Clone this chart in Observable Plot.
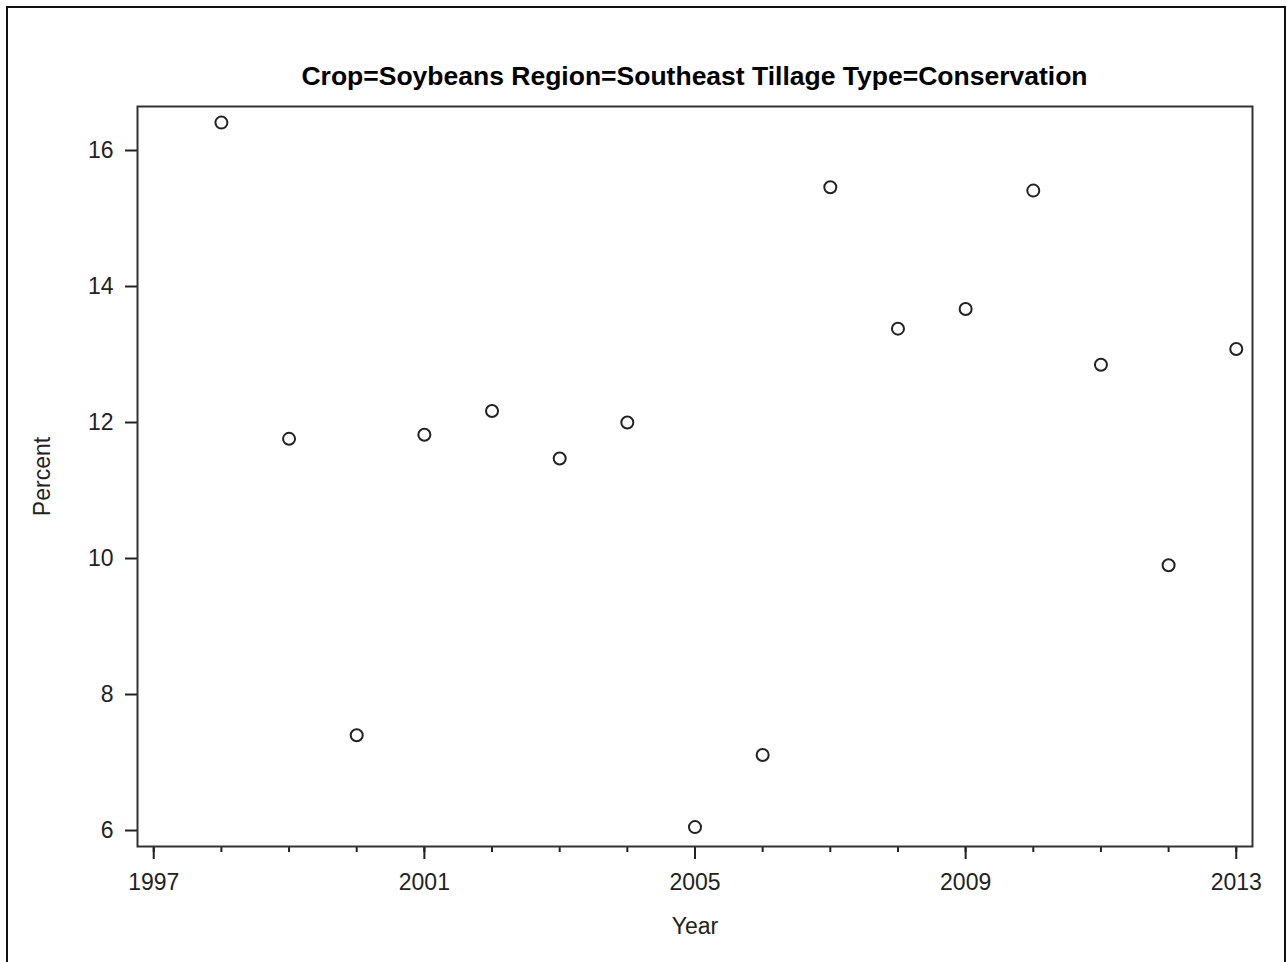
<!DOCTYPE html>
<html>
<head>
<meta charset="utf-8">
<script src="https://cdn.jsdelivr.net/npm/d3@7"></script>
<script src="https://cdn.jsdelivr.net/npm/@observablehq/plot@0.6"></script>
<style>
  html, body { margin: 0; padding: 0; background: #fff; overflow: hidden; }
  #page { position: relative; width: 1287px; height: 962px; }
  #border {
    position: absolute; left: 6px; top: 6px; width: 1280px; height: 1000px;
    box-sizing: border-box; border: 2px solid #111; pointer-events: none;
  }
  #title {
    position: absolute; left: 137px; top: 0; width: 1115px; height: 95px;
    box-sizing: border-box; padding-top: 63px;
    font: bold 26.5px/26px "Liberation Sans", Arial, sans-serif;
    color: #000; text-align: center; white-space: nowrap;
  }
  #chart { position: absolute; left: 0; top: 95px; }
</style>
</head>
<body>
<div id="page">
  <div id="title">Crop=Soybeans Region=Southeast Tillage Type=Conservation</div>
  <div id="chart"></div>
  <div id="border"></div>
</div>
<script>
// Conservation tillage share of soybean acreage, Southeast region
const years = [1998, 1999, 2000, 2001, 2002, 2003, 2004, 2005,
               2006, 2007, 2008, 2009, 2010, 2011, 2012, 2013];
const percent = [16.41, 11.76, 7.40, 11.82, 12.17, 11.47, 12.00, 6.05,
                 7.11, 15.46, 13.38, 13.67, 15.41, 12.85, 9.90, 13.08];

const yearTicks = [1997, 2001, 2005, 2009, 2013];
const minorYearTicks = d3.range(1997, 2014);
const percentTicks = [6, 8, 10, 12, 14, 16];

const rows = years.map((year, i) => ({year, percent: percent[i]}));

const chart = Plot.plot({
  width: 1287,
  height: 867,
  marginTop: 11,
  marginRight: 35,
  marginBottom: 116,
  marginLeft: 137,
  style: {
    fontFamily: '"Liberation Sans", Arial, sans-serif',
    fontSize: "23px",
    color: "#222",
    background: "transparent"
  },
  x: {domain: [1996.76, 2013.24]},
  y: {domain: [5.765, 16.647]},
  marks: [
    // yearly minor ticks, unlabeled
    Plot.axisX({ticks: minorYearTicks, tickSize: 6, tickFormat: () => "", label: null, strokeWidth: 2}),
    Plot.axisX({
      ticks: yearTicks, tickSize: 13, tickPadding: 14, strokeWidth: 2,
      tickFormat: d3.format("d"),
      label: "Year", labelAnchor: "center", labelArrow: "none", labelOffset: 87
    }),
    Plot.axisY({
      ticks: percentTicks, tickSize: 12, tickPadding: 12, strokeWidth: 2,
      label: "Percent", labelAnchor: "center", labelArrow: "none", labelOffset: 104
    }),
    Plot.frame({stroke: "#333", strokeWidth: 2}),
    Plot.dot(rows, {x: "year", y: "percent", r: 6, stroke: "#222", strokeWidth: 2, fill: "white"})
  ]
});

document.getElementById("chart").appendChild(chart);
</script>
</body>
</html>
